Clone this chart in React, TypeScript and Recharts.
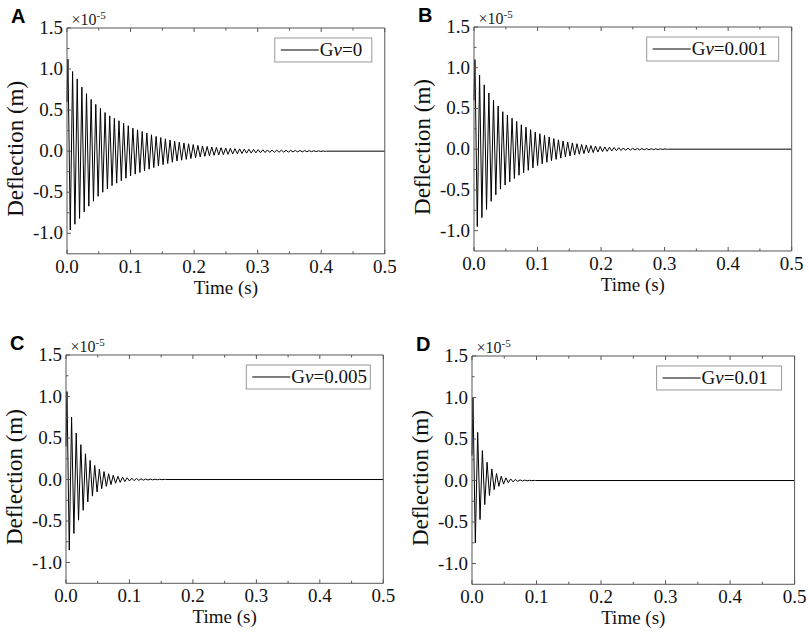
import React from "react";
import { LineChart, Line, XAxis, YAxis } from "recharts";

// tick positions (major + minor) on both axes
const timeTicks = [0, 0.05, 0.1, 0.15, 0.2, 0.25, 0.3, 0.35, 0.4, 0.45, 0.5];
const deflectionTicks = [-1.0, -0.75, -0.5, -0.25, 0, 0.25, 0.5, 0.75, 1.0, 1.25, 1.5];

// spacing of the oscillation peaks (s)
const period = 0.0073;
const firstPeak = 0.0015;

// deflection extremes in units of 1e-5 m, one per cycle
const startA = 0.6;
const peaksA = [
  1.12, 0.97, 0.88, 0.78, 0.7, 0.63, 0.57,
  0.52, 0.47, 0.43, 0.4, 0.37, 0.34, 0.31,
  0.28, 0.26, 0.24, 0.22, 0.2, 0.18, 0.165,
  0.15, 0.135, 0.12, 0.11, 0.1, 0.09, 0.08,
  0.07, 0.063, 0.057, 0.051, 0.046, 0.042, 0.038,
  0.034, 0.031, 0.028, 0.025, 0.023, 0.021, 0.019,
  0.017, 0.015, 0.014, 0.013, 0.012, 0.011, 0.01,
  0.009, 0.008, 0.007, 0.006, 0.005, 0.004, 0.003,
];
const troughsA = [
  -0.96, -0.89, -0.82, -0.74, -0.67, -0.61, -0.55,
  -0.5, -0.46, -0.42, -0.39, -0.36, -0.33, -0.3,
  -0.28, -0.26, -0.24, -0.22, -0.2, -0.18, -0.165,
  -0.15, -0.135, -0.12, -0.11, -0.1, -0.09, -0.08,
  -0.07, -0.063, -0.057, -0.051, -0.046, -0.042, -0.038,
  -0.034, -0.031, -0.028, -0.025, -0.023, -0.021, -0.019,
  -0.017, -0.015, -0.014, -0.013, -0.012, -0.011, -0.01,
  -0.009, -0.008, -0.007, -0.006, -0.005, -0.004, -0.003,
];

const startB = 0.6;
const peaksB = [
  1.1, 0.91, 0.79, 0.69, 0.6, 0.53, 0.46,
  0.42, 0.38, 0.34, 0.3, 0.27, 0.24, 0.21,
  0.19, 0.17, 0.15, 0.13, 0.115, 0.1, 0.088,
  0.077, 0.067, 0.058, 0.05, 0.044, 0.038, 0.033,
  0.028, 0.024, 0.021, 0.018, 0.015, 0.013, 0.011,
  0.009, 0.008, 0.007, 0.006, 0.005, 0.004, 0.003,
];
const troughsB = [
  -0.95, -0.84, -0.74, -0.64, -0.56, -0.49, -0.44,
  -0.4, -0.36, -0.32, -0.29, -0.26, -0.23, -0.2,
  -0.18, -0.16, -0.14, -0.125, -0.11, -0.095, -0.083,
  -0.072, -0.062, -0.054, -0.047, -0.041, -0.035, -0.03,
  -0.026, -0.022, -0.019, -0.016, -0.014, -0.012, -0.01,
  -0.0085, -0.0075, -0.0065, -0.0055, -0.0045, -0.0035, -0.0025,
];

const startC = 0.4;
const peaksC = [
  1.06, 0.75, 0.56, 0.42, 0.31, 0.23, 0.17, 0.125, 0.095, 0.07, 0.052,
  0.039, 0.029, 0.021, 0.016, 0.012, 0.009, 0.007, 0.005, 0.004, 0.003, 0.002,
];
const troughsC = [
  -0.85, -0.65, -0.49, -0.37, -0.27, -0.2, -0.15, -0.11, -0.082, -0.061, -0.045,
  -0.034, -0.025, -0.018, -0.014, -0.01, -0.008, -0.006, -0.004, -0.003, -0.002,
];

const startD = 0.3;
const peaksD = [1.0, 0.58, 0.36, 0.22, 0.14, 0.085, 0.052, 0.032, 0.02, 0.012, 0.008, 0.005, 0.003, 0.002];
const troughsD = [-0.75, -0.47, -0.29, -0.18, -0.11, -0.07, -0.043, -0.026, -0.016, -0.01, -0.006, -0.004, -0.002];

const legendLabels = ["0", "0.001", "0.005", "0.01"];
const panelLetters = ["A", "B", "C", "D"];

const frame = "#555";
const serif = "'Liberation Serif', 'Times New Roman', serif";

function buildSeries(start: number, peaks: number[], troughs: number[]) {
  const rows = [{ t: 0, v: start }];
  peaks.forEach((p, k) => {
    rows.push({ t: firstPeak + k * period, v: p });
    if (k < troughs.length) rows.push({ t: firstPeak + (k + 0.5) * period, v: troughs[k] });
  });
  const last = rows[rows.length - 1].t;
  rows.push({ t: last + period / 4, v: 0 });
  rows.push({ t: 0.5, v: 0 });
  return rows;
}

const isMajor = (v: number, step: number) => Math.abs(v / step - Math.round(v / step)) < 1e-6;

function BottomTick(props: any) {
  const { x, y, payload } = props;
  const major = isMajor(payload.value, 0.1);
  return (
    <g>
      <line x1={x} y1={y} x2={x} y2={y - (major ? 4 : 2.5)} stroke={frame} />
      {major && (
        <text x={x} y={y + 19} textAnchor="middle" fontFamily={serif} fontSize={19} fill="#111">
          {payload.value.toFixed(1)}
        </text>
      )}
    </g>
  );
}

function TopTick(props: any) {
  const { x, y, payload } = props;
  const major = isMajor(payload.value, 0.1);
  return <line x1={x} y1={y} x2={x} y2={y + (major ? 4 : 2.5)} stroke={frame} />;
}

function LeftTick(props: any) {
  const { x, y, payload } = props;
  const major = isMajor(payload.value, 0.5);
  return (
    <g>
      <line x1={x} y1={y} x2={x + (major ? 4 : 2.5)} y2={y} stroke={frame} />
      {major && (
        <text x={x - 4} y={y + 6} textAnchor="end" fontFamily={serif} fontSize={19} fill="#111">
          {payload.value.toFixed(1)}
        </text>
      )}
    </g>
  );
}

function RightTick(props: any) {
  const { x, y, payload } = props;
  const major = isMajor(payload.value, 0.5);
  return <line x1={x} y1={y} x2={x - (major ? 4 : 2.5)} y2={y} stroke={frame} />;
}

type PanelProps = {
  index: number;
  data: { t: number; v: number }[];
  left: number;
  top: number;
  plotW: number;
  plotH: number;
  legendW: number;
};

function Panel({ index, data, left, top, plotW, plotH, legendW }: PanelProps) {
  const padL = 66;
  const padT = 30;
  const padR = 12;
  const padB = 48;
  const width = plotW + padL + padR;
  const height = plotH + padT + padB;
  const legX = padL + plotW - 13 - legendW;
  const legY = padT + 10;
  const titleY = padT + plotH / 2 + 8;
  return (
    <div style={{ position: "absolute", left: left - padL, top: top - padT }}>
      <LineChart width={width} height={height} data={data} margin={{ top: padT - 1, right: padR - 1, bottom: 0, left: 0 }}>
        <XAxis
          xAxisId="bottom"
          dataKey="t"
          type="number"
          domain={[0, 0.5]}
          ticks={timeTicks}
          interval={0}
          height={padB}
          tickSize={0}
          tickMargin={0}
          tickLine={false}
          axisLine={{ stroke: frame }}
          tick={<BottomTick />}
        />
        <XAxis
          xAxisId="top"
          orientation="top"
          dataKey="t"
          type="number"
          domain={[0, 0.5]}
          ticks={timeTicks}
          interval={0}
          height={1}
          tickSize={0}
          tickMargin={0}
          tickLine={false}
          axisLine={{ stroke: frame }}
          tick={<TopTick />}
        />
        <YAxis
          yAxisId="left"
          type="number"
          domain={[-1.25, 1.5]}
          ticks={deflectionTicks}
          interval={0}
          width={padL}
          tickSize={0}
          tickMargin={0}
          tickLine={false}
          axisLine={{ stroke: frame }}
          tick={<LeftTick />}
        />
        <YAxis
          yAxisId="right"
          orientation="right"
          type="number"
          domain={[-1.25, 1.5]}
          ticks={deflectionTicks}
          interval={0}
          width={1}
          tickSize={0}
          tickMargin={0}
          tickLine={false}
          axisLine={{ stroke: frame }}
          tick={<RightTick />}
        />
        <Line
          xAxisId="bottom"
          yAxisId="left"
          type="linear"
          dataKey="v"
          name={`Gν=${legendLabels[index]}`}
          stroke="#000"
          strokeWidth={1}
          dot={false}
          activeDot={false}
          isAnimationActive={false}
        />
        <text x={10} y={25} fontFamily="'Liberation Sans', Arial, sans-serif" fontWeight="bold" fontSize={20} fill="#000">
          {panelLetters[index]}
        </text>
        <text x={padL + 4.5} y={padT - 3} fontFamily={serif} fontSize={16} fill="#222">
          ×10
          <tspan dy={-6} fontSize={11}>-5</tspan>
        </text>
        <text
          x={15}
          y={titleY}
          transform={`rotate(-90 15 ${titleY})`}
          textAnchor="middle"
          dominantBaseline="central"
          fontFamily={serif}
          fontSize={23}
          fill="#111"
        >
          Deflection (m)
        </text>
        <text x={padL + plotW / 2} y={padT + plotH + 40} textAnchor="middle" fontFamily={serif} fontSize={19} fill="#111">
          Time (s)
        </text>
        <g>
          <rect x={legX} y={legY} width={legendW} height={24} fill="#fff" stroke="#999" />
          <line x1={legX + 6} y1={legY + 12} x2={legX + 44} y2={legY + 12} stroke="#000" />
          <text x={legX + 45} y={legY + 18} fontFamily={serif} fontSize={19} fill="#111">
            G<tspan fontStyle="italic">ν</tspan>={legendLabels[index]}
          </text>
        </g>
      </LineChart>
    </div>
  );
}

const seriesA = buildSeries(startA, peaksA, troughsA);
const seriesB = buildSeries(startB, peaksB, troughsB);
const seriesC = buildSeries(startC, peaksC, troughsC);
const seriesD = buildSeries(startD, peaksD, troughsD);

export default function App() {
  return (
    <div style={{ position: "absolute", left: 0, top: 0, width: 809, height: 634, background: "#fff" }}>
      <Panel index={0} data={seriesA} left={66.5} top={27.5} plotW={317.8} plotH={225.8} legendW={97} />
      <Panel index={1} data={seriesB} left={474} top={27} plotW={317.7} plotH={224} legendW={132} />
      <Panel index={2} data={seriesC} left={66} top={355} plotW={317.3} plotH={228.3} legendW={124} />
      <Panel index={3} data={seriesD} left={471.7} top={356} plotW={322.6} plotH={228.3} legendW={125} />
    </div>
  );
}
